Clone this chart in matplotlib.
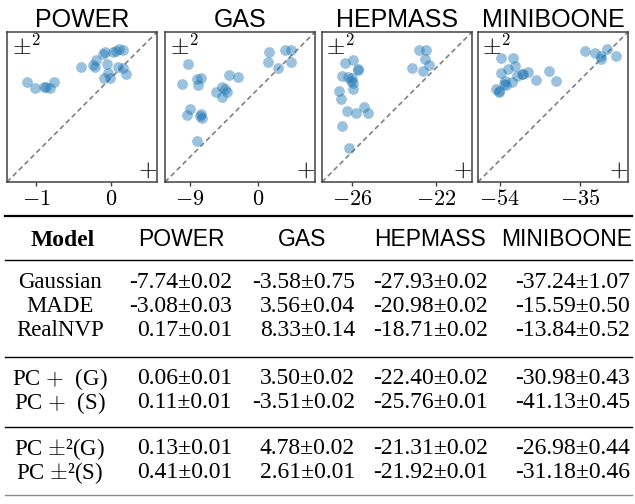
import matplotlib
matplotlib.use('Agg')
import matplotlib.pyplot as plt
from matplotlib.lines import Line2D

plt.rcParams['mathtext.fontset'] = 'cm'

# ---- scatter data: x = PC + , y = PC +-^2 (log-likelihoods) ----
datasets = ['POWER', 'GAS', 'HEPMASS', 'MINIBOONE']

power_x = [-1.13, -1.01, -0.90, -0.87, -0.81, -0.76, -0.40, -0.24, -0.20, -0.21, -0.11, -0.08,
           -0.05, -0.04, -0.09, -0.01, 0.03, 0.07, 0.11, 0.16, 0.09, 0.16, 0.20]
power_y = [-0.06, -0.14, -0.12, -0.12, -0.14, -0.06, 0.14, 0.17, 0.24, 0.15, 0.32, 0.35,
           0.18, 0.07, 0.00, 0.00, 0.35, 0.36, 0.38, 0.37, 0.15, 0.13, 0.05]

gas_x = [-9.22, -10.09, -8.03, -7.58, -7.94, -8.99, -9.35, -7.67, -7.37, -7.50, -8.03, -5.60,
         -4.72, -4.40, -4.14, -4.72, -3.84, -2.65, 1.46, 1.36, 2.69, 3.53, 4.33, 4.33]
gas_y = [3.31, 0.66, 1.28, 1.46, 0.53, -2.60, -3.44, -3.57, -3.80, -3.31, -6.84, -0.44,
         0.23, -0.04, -0.36, -1.02, 1.89, 1.63, 4.93, 3.61, 2.82, 5.16, 5.16, 3.53]

hep_x = [-26.38, -25.95, -26.51, -26.19, -26.03, -26.06, -25.74, -25.71, -25.95, -25.95, -26.64, -26.56,
         -26.25, -25.82, -25.45, -25.23, -26.51, -26.16, -23.15, -22.80, -22.48, -22.51, -22.32, -22.59]
hep_y = [-21.76, -21.60, -22.37, -22.41, -22.48, -22.61, -22.05, -22.08, -22.72, -23.01, -23.08, -23.46,
         -24.04, -24.16, -23.85, -24.16, -24.77, -25.84, -21.97, -21.12, -21.12, -21.57, -21.84, -22.12]

mini_x = [-53.76, -50.84, -50.44, -52.17, -53.83, -50.03, -48.85, -48.61, -47.42, -52.81, -52.98, -52.57,
          -51.22, -54.95, -54.31, -54.17, -45.45, -42.36, -40.70, -33.81, -31.60, -30.25, -30.08, -28.82, -26.52]
mini_y = [-30.02, -30.02, -31.77, -32.56, -33.34, -34.22, -33.75, -33.58, -33.27, -35.34, -35.96, -36.36,
          -35.58, -37.31, -37.95, -37.71, -35.01, -32.96, -35.34, -28.28, -28.83, -29.40, -30.25, -27.88, -29.47]

xs = [power_x, gas_x, hep_x, mini_x]
ys = [power_y, gas_y, hep_y, mini_y]
limits = [(-1.39, 0.61), (-12.3, 7.54), (-27.46, -20.26), (-59.15, -23.77)]
ticks = [[-1, 0], [-9, 0], [-26, -22], [-54, -35]]

# ---- table data ----
models = ['Gaussian', 'MADE', 'RealNVP',
          r'PC $+$  (G)', r'PC $+$  (S)', r'PC $\pm$²(G)', r'PC $\pm$²(S)']
power_res = ['-7.74±0.02', '-3.08±0.03', '0.17±0.01', '0.06±0.01', '0.11±0.01', '0.13±0.01', '0.41±0.01']
gas_res = ['-3.58±0.75', '3.56±0.04', '8.33±0.14', '3.50±0.02', '-3.51±0.02', '4.78±0.02', '2.61±0.01']
hep_res = ['-27.93±0.02', '-20.98±0.02', '-18.71±0.02', '-22.40±0.02', '-25.76±0.01', '-21.31±0.02', '-21.92±0.01']
mini_res = ['-37.24±1.07', '-15.59±0.50', '-13.84±0.52', '-30.98±0.43', '-41.13±0.45', '-26.98±0.44', '-31.18±0.46']

W, H = 635, 504
fig = plt.figure(figsize=(W / 100, H / 100), dpi=100)

lefts = [7, 165, 322, 478]
for i in range(4):
    ax = fig.add_axes([lefts[i] / W, (H - 182) / H, 150 / W, 150 / H])
    ax.scatter(xs[i], ys[i], s=60, color='#1f77b4', alpha=0.45, linewidths=0, zorder=3)
    ax.plot([0, 1], [0, 1], transform=ax.transAxes, color='0.5', lw=1.2, ls=(0, (3, 2)), zorder=2)
    ax.set_xlim(limits[i])
    ax.set_ylim(limits[i])
    ax.set_xticks(ticks[i])
    ax.set_xticklabels(['$%d$' % t for t in ticks[i]])
    ax.set_yticks([])
    ax.tick_params(axis='x', length=3, width=1, color='0.25', labelsize=16, pad=2)
    for sp in ax.spines.values():
        sp.set_color('0.25')
        sp.set_linewidth(1.1)
    ax.set_title(datasets[i], fontsize=18, family='Liberation Sans', pad=3)
    ax.text(0.03, 0.985, r'$\pm^2$', transform=ax.transAxes, ha='left', va='top', fontsize=17)
    ax.text(0.935, 0.08, r'$+$', transform=ax.transAxes, ha='center', va='center', fontsize=17)

# ---- table, drawn in pixel coordinates ----
tax = fig.add_axes([0, 0, 1, 1])
tax.set_xlim(0, W)
tax.set_ylim(H, 0)
tax.axis('off')

serif = 'Liberation Serif'
sans = 'Liberation Sans'
fs = 17

tax.add_line(Line2D([5, 632], [216, 216], color='black', lw=1.6))
tax.add_line(Line2D([5, 632], [260, 260], color='black', lw=1.0))
tax.add_line(Line2D([5, 632], [357, 357], color='black', lw=1.0))
tax.add_line(Line2D([5, 632], [427, 427], color='black', lw=1.0))
tax.add_line(Line2D([5, 632], [495, 495], color='0.55', lw=1.0))

tax.text(63, 240, 'Model', family=serif, weight='bold', fontsize=fs, ha='center', va='center')
head_x = [181, 302, 430, 567]
for hx, name in zip(head_x, datasets):
    tax.text(hx, 240, name, family=sans, fontsize=16.5, ha='center', va='center')

row_y = [282, 306, 331, 379, 403, 449, 473]
right_x = [232, 355, 488, 630]
cols = [power_res, gas_res, hep_res, mini_res]
for r, yy in enumerate(row_y):
    tax.text(60, yy, models[r], family=serif, fontsize=16.5, ha='center', va='center')
    for c in range(4):
        tax.text(right_x[c], yy, cols[c][r], family=serif, fontsize=fs, ha='right', va='center')

fig.savefig('out.png', dpi=100)
